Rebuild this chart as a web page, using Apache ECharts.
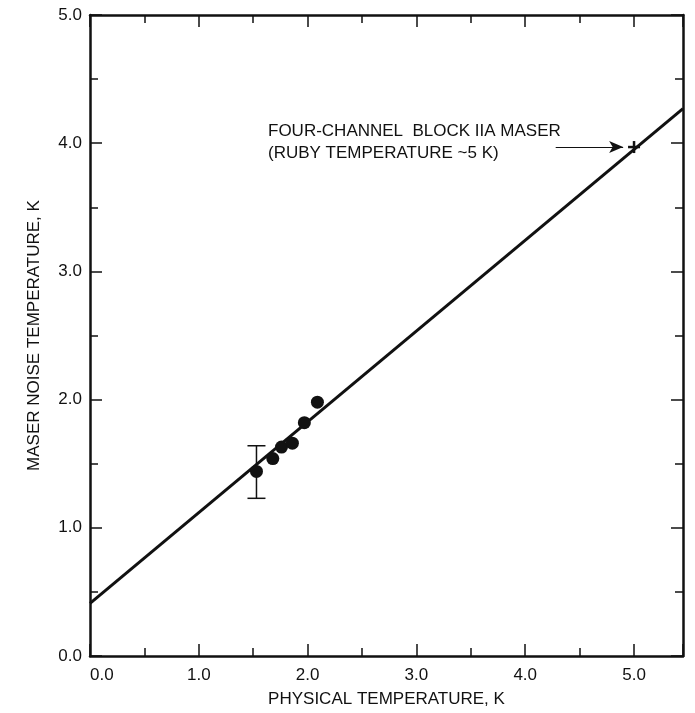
<!DOCTYPE html>
<html>
<head>
<meta charset="utf-8">
<script src="https://cdn.jsdelivr.net/npm/echarts@6/dist/echarts.min.js"></script>
<style>
  html, body { margin: 0; padding: 0; background: #fff; }
  #chart { width: 695px; height: 713px; }
</style>
</head>
<body>
<div id="chart"></div>
<script>
// measured maser points (physical temp K, noise temp K)
const measured = [
  [1.53, 1.44],
  [1.68, 1.54],
  [1.76, 1.63],
  [1.86, 1.66],
  [1.97, 1.82],
  [2.09, 1.98]
]
// error bar on first point: x, low, high
const errorBars = [[1.53, 1.23, 1.64]]
// fitted line end points
const fitLine = [[0, 0.41], [5.45, 4.27]]
// block IIA maser point
const blockIIA = [[5.0, 3.97]]
// arrow from label to the point
const arrowFrom = [4.28, 3.97]
const arrowTo = [4.9, 3.97]
const annotation = ['FOUR-CHANNEL  BLOCK IIA MASER', '(RUBY TEMPERATURE ~5 K)']

const xName = 'PHYSICAL TEMPERATURE, K'
const yName = 'MASER NOISE TEMPERATURE, K'

const font = '"Liberation Sans", Arial, sans-serif'
const black = '#111'

const chart = echarts.init(document.getElementById('chart'))

// shared axis look
const axisBase = (extra) => Object.assign({
  type: 'value',
  interval: 1,
  axisLine: { show: true, onZero: false, lineStyle: { color: black, width: 2.5 } },
  axisTick: { show: true, inside: true, length: 12, lineStyle: { color: black, width: 1.5 } },
  minorTick: { show: true, splitNumber: 2, length: 8, lineStyle: { color: black, width: 1.5 } },
  splitLine: { show: false },
  axisLabel: { show: false }
}, extra)

const intLabel = (v) => (Math.abs(v - Math.round(v)) < 1e-6 ? v.toFixed(1) : '')

const option = {
  backgroundColor: '#fff',
  animation: false,
  grid: { left: 90, right: 12, top: 15, bottom: 57 },
  xAxis: [
    axisBase({
      min: 0, max: 5.45, position: 'bottom',
      name: xName, nameLocation: 'middle', nameGap: 35,
      nameTextStyle: { color: black, fontSize: 17, fontFamily: font },
      axisLabel: { show: true, color: black, fontSize: 17, fontFamily: font, margin: 11, formatter: intLabel, alignMinLabel: 'left' }
    }),
    axisBase({ min: 0, max: 5.45, position: 'top' })
  ],
  yAxis: [
    axisBase({
      min: 0, max: 5, position: 'left',
      name: yName, nameLocation: 'middle', nameGap: 47,
      nameTextStyle: { color: black, fontSize: 17, fontFamily: font },
      axisLabel: { show: true, color: black, fontSize: 17, fontFamily: font, margin: 8, formatter: intLabel }
    }),
    axisBase({ min: 0, max: 5, position: 'right' })
  ],
  series: [
    {
      name: 'fit',
      type: 'line',
      data: fitLine,
      showSymbol: false,
      lineStyle: { color: black, width: 3 },
      z: 2,
      markLine: {
        silent: true,
        symbol: ['none', 'arrow'],
        symbolSize: [9, 14],
        label: { show: false },
        lineStyle: { color: black, width: 1, type: 'solid' },
        data: [[{ coord: arrowFrom }, { coord: arrowTo }]]
      }
    },
    {
      name: 'measured',
      type: 'scatter',
      data: measured,
      symbolSize: 13,
      itemStyle: { color: black, opacity: 1 },
      z: 3
    },
    {
      name: 'error',
      type: 'custom',
      data: errorBars,
      renderItem: (params, api) => {
        const x = api.value(0)
        const lo = api.coord([x, api.value(1)])
        const hi = api.coord([x, api.value(2)])
        const cap = 9
        const style = { stroke: black, lineWidth: 1.5 }
        return {
          type: 'group',
          children: [
            { type: 'line', shape: { x1: lo[0], y1: lo[1], x2: hi[0], y2: hi[1] }, style },
            { type: 'line', shape: { x1: lo[0] - cap, y1: lo[1], x2: lo[0] + cap, y2: lo[1] }, style },
            { type: 'line', shape: { x1: hi[0] - cap, y1: hi[1], x2: hi[0] + cap, y2: hi[1] }, style }
          ]
        }
      },
      z: 3
    },
    {
      name: 'block IIA',
      type: 'custom',
      data: blockIIA,
      renderItem: (params, api) => {
        const p = api.coord([api.value(0), api.value(1)])
        const s = 6
        const style = { stroke: black, lineWidth: 2.5 }
        return {
          type: 'group',
          children: [
            { type: 'line', shape: { x1: p[0] - s, y1: p[1], x2: p[0] + s, y2: p[1] }, style },
            { type: 'line', shape: { x1: p[0], y1: p[1] - s, x2: p[0], y2: p[1] + s }, style }
          ]
        }
      },
      z: 4
    }
  ],
  graphic: [
    {
      type: 'text',
      left: 268,
      top: 120,
      style: {
        text: annotation.join('\n'),
        fill: black,
        fontSize: 17,
        fontFamily: font,
        lineHeight: 22
      }
    }
  ]
}

chart.setOption(option)
</script>
</body>
</html>
